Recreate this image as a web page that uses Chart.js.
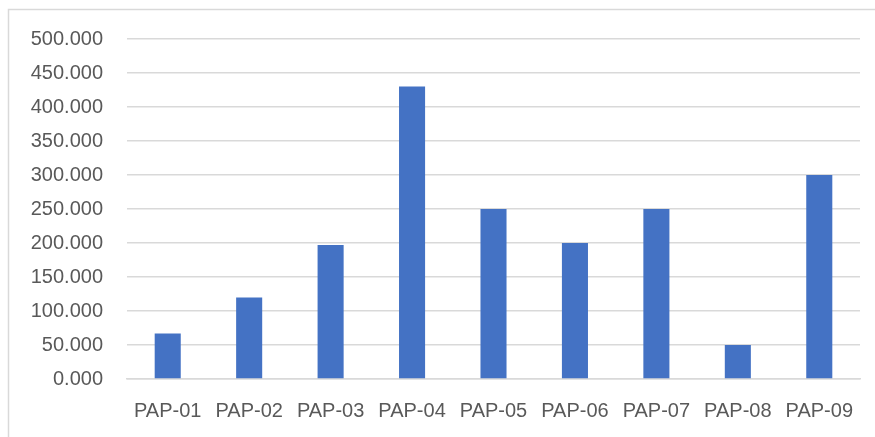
<!DOCTYPE html>
<html>
<head>
<meta charset="utf-8">
<script src="https://cdn.jsdelivr.net/npm/chart.js@4.4.1/dist/chart.umd.min.js"></script>
<style>
html,body{margin:0;padding:0;background:#fff;}
#wrap{position:relative;width:875px;height:437px;}
</style>
</head>
<body>
<div id="wrap"><canvas id="c" width="875" height="437"></canvas></div>
<script>
const categories = ["PAP-01","PAP-02","PAP-03","PAP-04","PAP-05","PAP-06","PAP-07","PAP-08","PAP-09"];
const values = [67, 120, 197, 430, 250, 200, 250, 50, 300];
const yTicks = [0, 50, 100, 150, 200, 250, 300, 350, 400, 450, 500];

const frame = {
  id: 'frame',
  beforeDraw(chart) {
    const ctx = chart.ctx;
    ctx.save();
    ctx.strokeStyle = '#d9d9d9';
    ctx.lineWidth = 1.5;
    ctx.beginPath();
    ctx.moveTo(8.5, 437);
    ctx.lineTo(8.5, 9.5);
    ctx.lineTo(875, 9.5);
    ctx.stroke();
    ctx.restore();
  }
};

new Chart(document.getElementById('c'), {
  type: 'bar',
  data: {
    labels: categories,
    datasets: [{
      data: values,
      backgroundColor: '#4472C4',
      borderWidth: 0,
      categoryPercentage: 1,
      barPercentage: 0.32
    }]
  },
  options: {
    responsive: false,
    animation: false,
    devicePixelRatio: 1,
    layout: { padding: { left: 0, right: 15, top: 39, bottom: 0 } },
    plugins: { legend: { display: false }, tooltip: { enabled: false } },
    scales: {
      y: {
        min: 0, max: 500,
        afterBuildTicks(scale) { scale.ticks = yTicks.map(v => ({ value: v })); },
        afterFit(scale) { scale.width = 127; },
        ticks: {
          padding: 24,
          color: '#595959',
          font: { family: 'Liberation Sans', size: 20 },
          callback: v => Number(v).toFixed(3)
        },
        grid: { color: '#d9d9d9', lineWidth: 1.5, drawTicks: false },
        border: { display: false }
      },
      x: {
        afterFit(scale) { scale.height = 58; },
        ticks: {
          padding: 20,
          color: '#595959',
          font: { family: 'Liberation Sans', size: 20 },
          maxRotation: 0, autoSkip: false
        },
        grid: { display: false, drawTicks: false },
        border: { display: true, color: '#d9d9d9', width: 1.5 }
      }
    }
  },
  plugins: [frame]
});
</script>
</body>
</html>
